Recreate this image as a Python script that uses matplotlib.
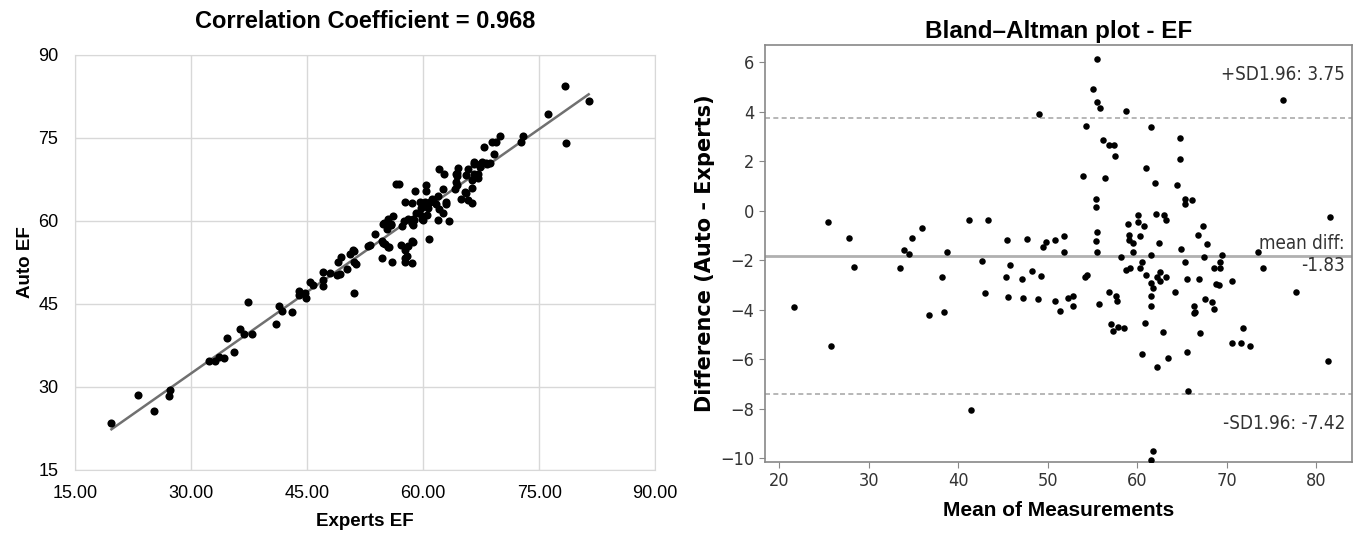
import matplotlib
matplotlib.use("Agg")
import matplotlib.pyplot as plt
import numpy as np

# ---------------- data ----------------
# Bland-Altman plot: mean of measurements and difference
ba_mean = [21.6, 25.4, 25.8, 27.8, 28.4, 33.5, 33.9, 34.5, 34.8, 35.9, 36.7, 38.2, 38.4, 38.7,
           41.2, 41.4, 42.7, 43.0, 43.3, 45.3, 45.4, 45.6, 45.8, 47.1, 47.2, 47.7, 48.2, 48.9,
           49.0, 49.2, 49.5, 49.8, 50.8, 50.8, 51.4, 51.8, 51.8, 52.3, 52.8, 52.8, 54.0, 54.2,
           54.4, 54.3, 55.1, 55.5, 55.5, 55.8, 55.4, 55.4, 55.5, 55.4, 55.5, 55.7, 56.2, 56.4,
           56.8, 57.4, 57.5, 56.9, 57.6, 57.7, 57.1, 57.3, 57.9, 58.5, 58.2, 58.7, 58.8, 59.0,
           59.1, 59.1, 59.2, 59.5, 59.5, 60.1, 60.1, 60.3, 60.3, 60.5, 60.8, 61.0, 61.0, 60.9,
           60.5, 61.5, 61.6, 61.6, 61.6, 61.5, 61.8, 61.5, 61.8, 62.0, 62.1, 62.2, 62.2, 62.4,
           62.5, 62.5, 62.9, 63.0, 63.2, 63.2, 63.4, 64.2, 64.4, 64.8, 64.8, 64.9, 65.3, 65.3,
           65.4, 65.6, 65.6, 65.7, 66.1, 66.3, 66.4, 66.5, 66.8, 66.9, 67.0, 67.4, 67.5, 67.6,
           67.8, 68.4, 68.6, 68.6, 68.8, 69.1, 69.3, 69.3, 69.5, 70.6, 70.6, 71.6, 71.8, 72.6,
           73.5, 74.1, 76.3, 77.8, 81.3, 81.5]
ba_diff = [-3.88, -0.44, -5.48, -1.11, -2.27, -2.32, -1.59, -1.75, -1.09, -0.71, -4.21, -2.67, -4.11, -1.68,
           -0.37, -8.05, -2.04, -3.32, -0.37, -2.67, -1.20, -3.49, -2.21, -2.76, -3.53, -1.15, -2.43, -3.59,
           3.92, -2.64, -1.48, -1.27, -1.17, -3.65, -4.04, -1.04, -1.68, -3.52, -3.47, -3.87, 1.41, -2.67,
           -2.60, 3.41, 4.91, 6.12, 4.39, 4.15, 0.49, 0.13, -0.88, -1.24, -1.67, -3.77, 2.87, 1.31,
           2.65, 2.65, 2.23, -3.27, -3.45, -3.64, -4.60, -4.87, -4.71, -4.76, -1.88, -2.40, 4.03, -0.52,
           -0.97, -1.19, -2.33, -1.68, -1.32, -0.17, -0.44, -1.04, -2.33, -2.08, -0.63, 1.73, -2.61, -4.55,
           -5.81, -1.81, 3.39, -2.92, -3.44, -3.84, -9.72, -10.10, -3.11, 1.12, -0.15, -6.31, -2.68, -1.31,
           -2.48, -2.84, -4.92, -0.17, -0.39, -2.68, -5.97, -3.27, 1.03, 2.92, 2.09, -1.56, 0.47, 0.25,
           -2.08, -2.75, -5.71, -7.29, 0.45, -3.87, -4.15, -4.11, -0.97, -2.75, -4.93, -0.63, -1.88, -3.56,
           -1.36, -3.69, -3.96, -2.31, -2.97, -3.01, -2.07, -2.32, -1.81, -2.85, -5.36, -5.36, -4.76, -5.48,
           -1.68, -2.32, 4.47, -3.27, -6.09, -0.25]

# Correlation plot: Experts EF (x) and Auto EF (y)
experts_ef = [19.7, 25.2, 23.1, 27.2, 27.3, 32.3, 33.1, 33.6, 34.3, 35.5, 34.6, 36.9, 36.3, 37.9,
              41.0, 37.4, 41.7, 41.3, 43.1, 44.0, 44.8, 43.9, 44.7, 45.7, 45.4, 47.1, 47.0, 47.1,
              51.0, 47.9, 48.8, 49.2, 50.2, 49.0, 49.4, 51.3, 51.0, 50.5, 51.1, 50.9, 54.7, 52.9,
              53.1, 56.0, 57.6, 58.6, 57.7, 57.9, 55.6, 55.5, 55.1, 54.8, 54.7, 53.8, 57.6, 57.1,
              58.1, 58.7, 58.6, 55.3, 55.9, 55.9, 54.8, 54.9, 55.5, 56.1, 57.3, 57.5, 60.8, 58.7,
              58.6, 58.5, 58.0, 58.7, 58.8, 60.0, 59.9, 59.8, 59.1, 59.5, 60.5, 61.9, 59.7, 58.6,
              57.6, 60.6, 63.3, 60.1, 59.9, 59.6, 56.9, 56.5, 60.2, 62.6, 62.0, 59.0, 60.9, 61.7,
              61.3, 61.1, 60.4, 62.9, 63.0, 61.9, 60.4, 62.6, 64.9, 66.3, 65.8, 64.1, 65.5, 65.4,
              64.4, 64.2, 62.7, 62.1, 66.3, 64.4, 64.3, 64.4, 66.3, 65.5, 64.5, 67.1, 66.6, 65.8,
              67.1, 66.6, 66.6, 67.4, 67.3, 67.6, 68.3, 68.1, 68.6, 69.2, 67.9, 68.9, 69.4, 69.9,
              72.7, 72.9, 78.5, 76.2, 78.3, 81.4]
auto_ef = [23.5, 25.6, 28.5, 28.4, 29.5, 34.7, 34.7, 35.4, 35.3, 36.3, 38.8, 39.5, 40.5, 39.5,
           41.4, 45.4, 43.7, 44.7, 43.5, 46.6, 46.0, 47.3, 46.9, 48.5, 49.0, 48.3, 49.4, 50.7,
           47.0, 50.5, 50.2, 50.4, 51.4, 52.6, 53.4, 52.3, 52.6, 54.1, 54.5, 54.7, 53.3, 55.5,
           55.7, 52.6, 52.6, 52.4, 53.3, 53.7, 55.2, 55.3, 55.9, 56.0, 56.3, 57.6, 54.8, 55.7,
           55.5, 56.1, 56.4, 58.5, 59.3, 59.5, 59.4, 59.7, 60.3, 60.9, 59.1, 59.9, 56.8, 59.3,
           59.6, 59.7, 60.4, 60.3, 60.2, 60.2, 60.3, 60.8, 61.5, 61.5, 61.1, 60.1, 62.3, 63.2,
           63.4, 62.4, 59.9, 63.1, 63.3, 63.4, 66.7, 66.6, 63.4, 61.4, 62.2, 65.4, 63.5, 63.1,
           63.7, 63.9, 65.4, 63.1, 63.4, 64.5, 66.4, 65.8, 63.9, 63.3, 63.8, 65.7, 65.1, 65.2,
           66.4, 67.0, 68.5, 69.3, 65.9, 68.2, 68.5, 68.6, 67.3, 68.3, 69.5, 67.7, 68.4, 69.4,
           68.5, 70.2, 70.6, 69.8, 70.3, 70.6, 70.3, 70.5, 70.4, 72.0, 73.3, 74.3, 74.2, 75.3,
           74.3, 75.3, 74.1, 79.4, 84.3, 81.6]

corr_title = "Correlation Coefficient = 0.968"
left_ticks = [15, 30, 45, 60, 75, 90]
mean_diff = -1.83
upper_loa = 3.75
lower_loa = -7.42
ba_xticks = [20, 30, 40, 50, 60, 70, 80]
ba_yticks = [-10, -8, -6, -4, -2, 0, 2, 4, 6]

# ---------------- figure ----------------
fig = plt.figure(figsize=(13.65, 5.35), dpi=100)

ARIAL = ["Liberation Sans", "DejaVu Sans"]
NARROW = ["Liberation Sans Narrow", "Liberation Sans", "DejaVu Sans"]
DJC = dict(family=["DejaVu Sans"], stretch="condensed")

# ---- left: correlation scatter ----
ax1 = fig.add_axes([0.055, 0.1215, 0.425, 0.776])
ax1.scatter(experts_ef, auto_ef, s=34, color="black", zorder=3, linewidths=0)
xe = np.array(experts_ef)
ya = np.array(auto_ef)
k, b = np.polyfit(xe, ya, 1)
xl = np.array([xe.min(), xe.max()])
ax1.plot(xl, k * xl + b, color="#707070", lw=1.8, zorder=2)
ax1.set_xlim(15, 90)
ax1.set_ylim(15, 90)
ax1.set_xticks(left_ticks)
ax1.set_yticks(left_ticks)
ax1.set_xticklabels([f"{t:.2f}" for t in left_ticks], family=ARIAL, fontsize=13)
ax1.set_yticklabels([str(t) for t in left_ticks], family=ARIAL, fontsize=13)
ax1.tick_params(axis="x", length=0, pad=11)
ax1.tick_params(axis="y", length=0, pad=12)
ax1.grid(True, color="#d8d8d8", lw=1)
ax1.set_axisbelow(True)
for sp in ax1.spines.values():
    sp.set_color("#d8d8d8")
ax1.set_title(corr_title, family=ARIAL, fontsize=17, fontweight="bold", pad=19)
ax1.set_xlabel("Experts EF", family=ARIAL, fontsize=13.5, fontweight="bold", labelpad=8)
ax1.set_ylabel("Auto EF", family=ARIAL, fontsize=13.5, fontweight="bold", labelpad=3)

# ---- right: Bland-Altman ----
ax2 = fig.add_axes([0.5604, 0.137, 0.430, 0.779])
ax2.scatter(ba_mean, ba_diff, s=22, color="black", zorder=3, linewidths=0)
ax2.axhline(mean_diff, color="#b0b0b0", lw=2, zorder=2)
ax2.axhline(upper_loa, color="#aaaaaa", lw=1.2, ls=(0, (3, 2)), zorder=2)
ax2.axhline(lower_loa, color="#aaaaaa", lw=1.2, ls=(0, (3, 2)), zorder=2)
ax2.set_xlim(18.4, 84.0)
ax2.set_ylim(-10.15, 6.7)
ax2.set_xticks(ba_xticks)
ax2.set_yticks(ba_yticks)
ax2.tick_params(labelsize=13, length=4, color="#888888")
for lab in ax2.get_xticklabels() + ax2.get_yticklabels():
    lab.set_fontfamily(["DejaVu Sans"])
    lab.set_fontstretch("condensed")
    lab.set_color("#333333")
for sp in ax2.spines.values():
    sp.set_color("#888888")
    sp.set_linewidth(1.2)
ax2.set_title("Bland\u2013Altman plot - EF", family=NARROW, fontsize=17.5, fontweight="bold", pad=5)
ax2.set_xlabel("Mean of Measurements", family=NARROW, fontsize=15, fontweight="bold", labelpad=8)
ax2.set_ylabel("Difference (Auto - Experts)", family=["DejaVu Sans"], fontsize=15,
               fontweight="bold", labelpad=4)

tx = 0.988
ytr = ax2.get_yaxis_transform()
ax2.text(tx, 5.52, f"+SD1.96: {upper_loa:.2f}", transform=ytr,
         ha="right", va="center", fontsize=13.5, color="#333333", **DJC)
ax2.text(tx, -1.33, "mean diff:", transform=ytr,
         ha="right", va="center", fontsize=13.5, color="#333333", **DJC)
ax2.text(tx, -2.22, f"{mean_diff:.2f}", transform=ytr,
         ha="right", va="center", fontsize=13.5, color="#333333", **DJC)
ax2.text(tx, -8.59, f"-SD1.96: {lower_loa:.2f}", transform=ytr,
         ha="right", va="center", fontsize=13.5, color="#333333", **DJC)

fig.savefig("out.png", dpi=100)
